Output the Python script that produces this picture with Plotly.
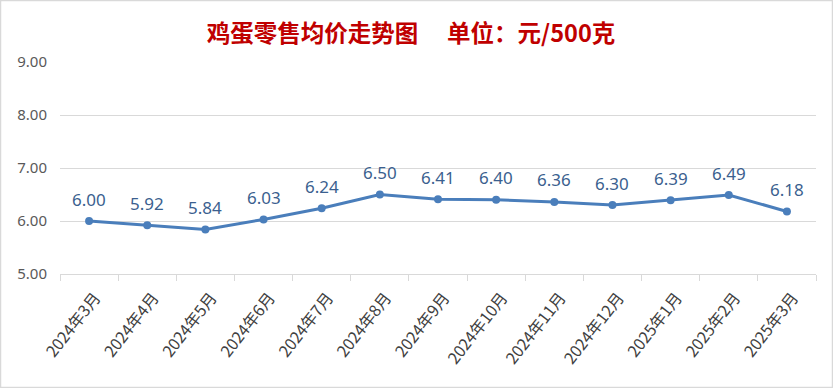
import plotly.graph_objects as go

categories = ["2024年3月", "2024年4月", "2024年5月", "2024年6月", "2024年7月", "2024年8月",
              "2024年9月", "2024年10月", "2024年11月", "2024年12月", "2025年1月", "2025年2月", "2025年3月"]
prices = [6.00, 5.92, 5.84, 6.03, 6.24, 6.50, 6.41, 6.40, 6.36, 6.30, 6.39, 6.49, 6.18]
y_ticks = [5, 6, 7, 8, 9]
title_text = "鸡蛋零售均价走势图\u3000 单位：元/500克"

W, H = 833, 388
L, R, T, B = 60, 17, 62, 114
pw, ph = W - L - R, H - T - B

fig = go.Figure()
fig.add_trace(go.Scatter(
    x=categories, y=prices, mode="lines+markers",
    line=dict(color="#4a7ebb", width=3),
    marker=dict(color="#4a7ebb", size=8),
    hoverinfo="x+y", showlegend=False,
))

for c, v in zip(categories, prices):
    fig.add_annotation(x=c, y=v, text=f"{v:.2f}", showarrow=False, yshift=22,
                       font=dict(family="Noto Sans", size=17, color="#3b5f8f"))

fig.add_shape(type="rect", xref="paper", yref="paper",
              x0=(0.5 - L) / pw, x1=(W - 0.5 - L) / pw,
              y0=((H - B) - (H - 0.5)) / ph, y1=((H - B) - 0.5) / ph,
              line=dict(color="#d9d9d9", width=1.5), layer="below")

fig.update_layout(
    width=W, height=H,
    margin=dict(l=L, r=R, t=T, b=B, autoexpand=False),
    paper_bgcolor="white", plot_bgcolor="white",
    title=dict(text=title_text, x=411 / W, xref="container", xanchor="center", y=1 - 34 / H, yanchor="middle",
               font=dict(family="Noto Sans CJK SC", size=23.5, color="#c00000", weight="bold")),
    xaxis=dict(type="category", range=[-0.5, len(categories) - 0.5], automargin=False,
               tickangle=-52, ticks="outside", tickson="boundaries", ticklen=6,
               tickcolor="#d9d9d9", showline=True, linecolor="#d9d9d9", linewidth=1,
               showgrid=False, ticklabelstandoff=7, ticklabelshift=6,
               tickfont=dict(family="Noto Sans CJK SC", size=16, color="#404040")),
    yaxis=dict(range=[5, 9], tickvals=y_ticks, ticktext=[f"{t:.2f}" for t in y_ticks],
               showgrid=True, gridcolor="#d9d9d9", gridwidth=1, zeroline=False,
               ticks="", ticklabelstandoff=12, automargin=False,
               tickfont=dict(family="Noto Sans", size=15, color="#595959")),
)

fig.write_html("out.html", config={"displayModeBar": False},
               post_script="document.body.style.margin='0';document.body.style.overflow='hidden';")
